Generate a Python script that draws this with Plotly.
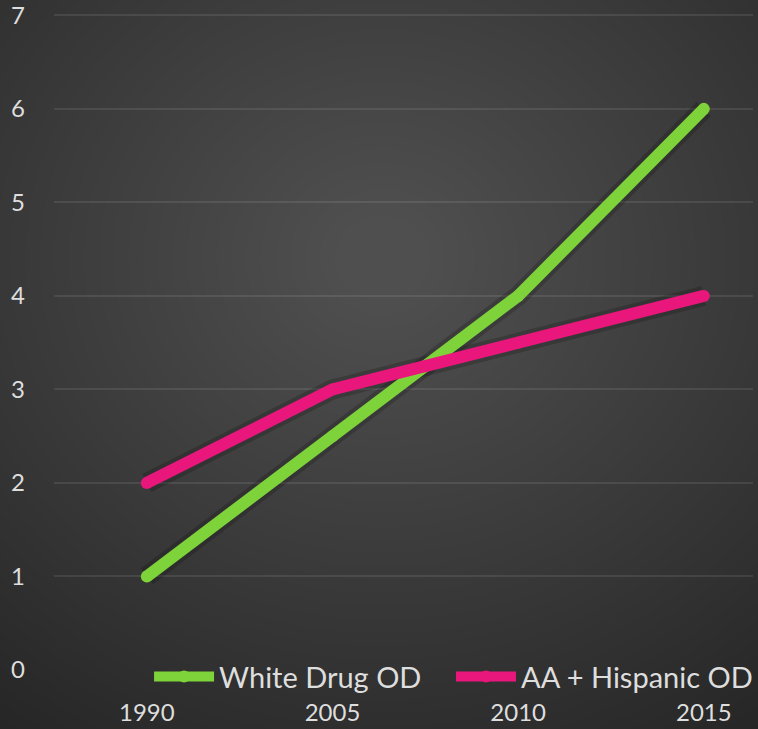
import plotly.graph_objects as go

years = ["1990", "2005", "2010", "2015"]
white_od = [1, 2.5, 4, 6]
aa_hisp_od = [2, 3, 3.5, 4]
y_ticks = [0, 1, 2, 3, 4, 5, 6, 7]

GREEN = "#7ed23a"
PINK = "#e9177c"
TEXT = "#dedede"
FONT = "Lato"

fig = go.Figure()

# soft shadows
for vals in (white_od, aa_hisp_od):
    fig.add_trace(go.Scatter(
        x=years, y=vals, mode="lines", showlegend=False, hoverinfo="skip",
        line=dict(color="rgba(0,0,0,0.18)", width=20),
    ))

fig.add_trace(go.Scatter(x=years, y=white_od, mode="lines+markers", name="White Drug OD",
                         line=dict(color=GREEN, width=12),
                         marker=dict(size=12, color=GREEN, line=dict(width=0)),
                         legend="legend"))
fig.add_trace(go.Scatter(x=years, y=aa_hisp_od, mode="lines+markers", name="AA + Hispanic OD",
                         line=dict(color=PINK, width=12),
                         marker=dict(size=12, color=PINK, line=dict(width=0)),
                         legend="legend2"))

# radial gradient background via stacked translucent ellipses
shapes = []
n = 45
cx, cy = 0.47, 0.62
for i in range(n):
    r = 1.05 - i / n
    rx = 0.95 * r
    ry = 0.9 * r
    shapes.append(dict(type="circle", xref="paper", yref="paper",
                       x0=cx - rx, x1=cx + rx, y0=cy - ry, y1=cy + ry,
                       fillcolor="rgba(255,255,255,0.0095)", line=dict(width=0),
                       layer="below"))

leg_common = dict(orientation="h", y=-0.01, xanchor="left", yanchor="middle",
                  bgcolor="rgba(0,0,0,0)", font=dict(size=29, color=TEXT, family=FONT),
                  itemwidth=60)

fig.update_layout(
    width=758, height=729,
    margin=dict(l=54, r=0, t=6, b=59),
    paper_bgcolor="#222222",
    plot_bgcolor="rgba(0,0,0,0)",
    font=dict(family=FONT, color=TEXT),
    shapes=shapes,
    showlegend=True,
    legend=dict(x=0.136, **leg_common),
    legend2=dict(x=0.568, **leg_common),
    xaxis=dict(type="category", range=[-0.5, 3.265], showgrid=False, zeroline=False,
               showline=False, ticks="", tickfont=dict(size=24, color=TEXT),
               ticklabelstandoff=26),
    yaxis=dict(range=[0, 7.1], tickvals=y_ticks, showgrid=True,
               gridcolor="rgba(255,255,255,0.09)", gridwidth=2, zeroline=False,
               showline=False, ticks="", tickfont=dict(size=24, color=TEXT),
               ticklabelstandoff=28, ticklabeloverflow="allow"),
)

fig.write_html("out.html")
